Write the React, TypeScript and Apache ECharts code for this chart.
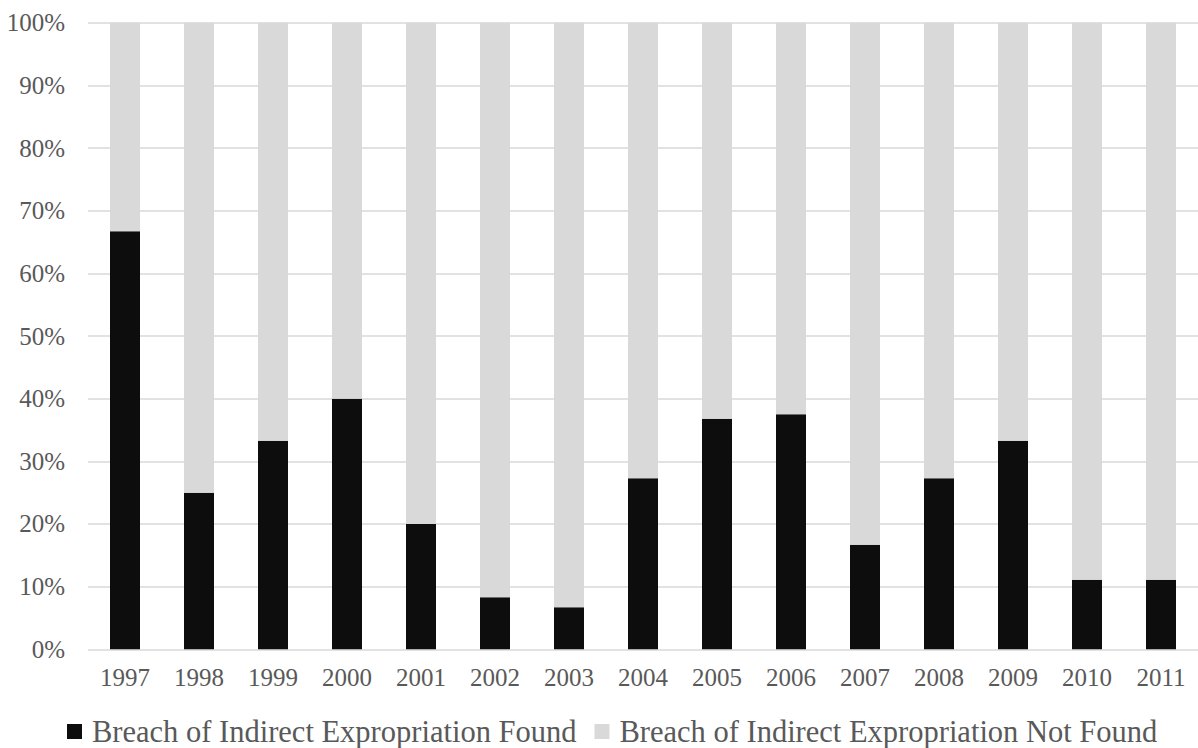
import React, { useEffect, useRef } from "react";
import * as echarts from "echarts";

const years = ["1997", "1998", "1999", "2000", "2001", "2002", "2003", "2004", "2005", "2006", "2007", "2008", "2009", "2010", "2011"];
const foundShare = [66.7, 25.0, 33.3, 40.0, 20.0, 8.3, 6.7, 27.3, 36.8, 37.5, 16.7, 27.3, 33.3, 11.1, 11.1];
const notFoundShare = [33.3, 75.0, 66.7, 60.0, 80.0, 91.7, 93.3, 72.7, 63.2, 62.5, 83.3, 72.7, 66.7, 88.9, 88.9];
const seriesNames = ["Breach of Indirect Expropriation Found", "Breach of Indirect Expropriation Not Found"];

const FONT = "'Liberation Serif', 'Times New Roman', serif";
const TEXT_COLOR = "#595959";

export default function App() {
  const ref = useRef<HTMLDivElement>(null);
  useEffect(() => {
    if (!ref.current) return;
    const chart = echarts.init(ref.current, null, { renderer: "svg" });
    chart.setOption({
      animation: false,
      backgroundColor: "#ffffff",
      textStyle: { fontFamily: FONT },
      grid: { left: 88, top: 22.7, width: 1117.5, height: 626.6, containLabel: false },
      legend: {
        left: 67,
        top: 716,
        padding: 0,
        itemWidth: 15,
        itemHeight: 15,
        itemGap: 18,
        icon: "rect",
        data: seriesNames,
        textStyle: {
          fontFamily: FONT,
          fontSize: 30.5,
          lineHeight: 26,
          color: TEXT_COLOR,
          padding: [0, 0, 0, 5],
        },
      },
      xAxis: {
        type: "category",
        data: years,
        axisLine: { show: false },
        axisTick: { show: false },
        axisLabel: { color: TEXT_COLOR, fontFamily: FONT, fontSize: 25, margin: 16, interval: 0 },
      },
      yAxis: {
        type: "value",
        min: 0,
        max: 100,
        interval: 10,
        axisLine: { show: false },
        axisTick: { show: false },
        axisLabel: { color: TEXT_COLOR, fontFamily: FONT, fontSize: 25, margin: 23, formatter: "{value}%" },
        splitLine: { lineStyle: { color: "#d9d9d9", width: 1.5 } },
      },
      series: [
        {
          name: seriesNames[0],
          type: "bar",
          stack: "total",
          data: foundShare,
          barWidth: 30,
          itemStyle: { color: "#0d0d0d" },
        },
        {
          name: seriesNames[1],
          type: "bar",
          stack: "total",
          data: notFoundShare,
          barWidth: 30,
          itemStyle: { color: "#d9d9d9" },
        },
      ],
    });
    return () => chart.dispose();
  }, []);
  return (
    <div
      ref={ref}
      style={{ position: "fixed", left: 0, top: 0, width: 1198, height: 748, background: "#fff" }}
    />
  );
}
